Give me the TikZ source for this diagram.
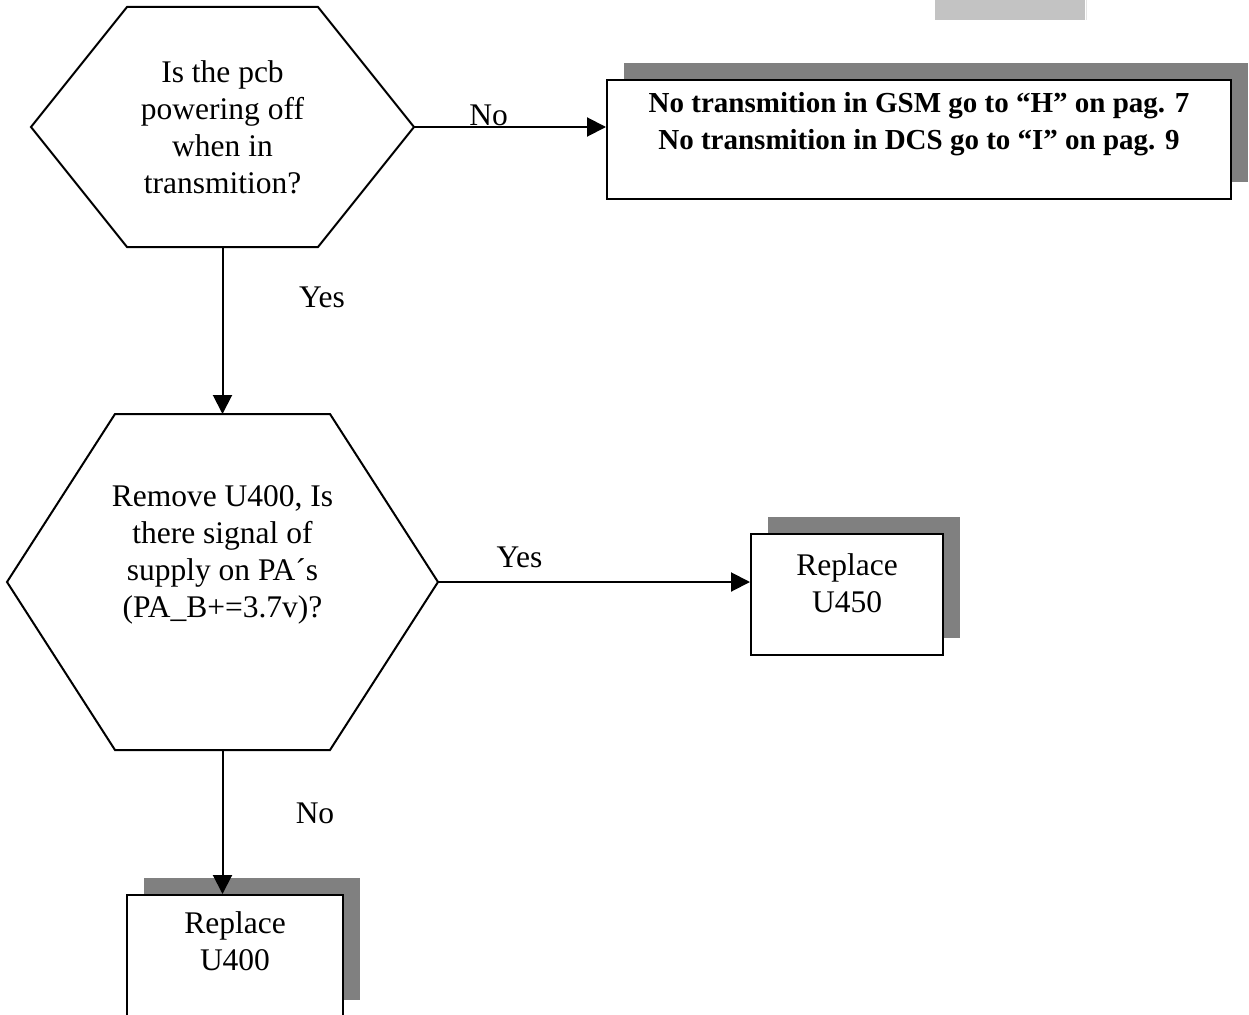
\documentclass[tikz,border=0pt]{standalone}
\usepackage{fontspec}
\setmainfont{Liberation Serif}
\usetikzlibrary{arrows.meta,positioning,shadows}

\definecolor{shade}{HTML}{808080}
\definecolor{tabgray}{HTML}{C3C3C3}

% hexagon outline round a named node, #2 = inset of the flat edges
\newcommand{\hexline}[2]{%
  \draw (#1.west) -- ([xshift=#2]#1.north west) -- ([xshift=-#2]#1.north east)
    -- (#1.east) -- ([xshift=-#2]#1.south east) -- ([xshift=#2]#1.south west) -- cycle;}

\begin{document}
\begin{tikzpicture}[x=1pt,y=-1pt,line width=2pt,
    font=\fontsize{31.5}{37}\selectfont,
    hexbox/.style={inner sep=0pt,outer sep=0pt,align=center},
    stepbox/.style={draw,fill=white,inner sep=0pt,
      drop shadow={shadow xshift=17pt,shadow yshift=17pt,opacity=1,fill=shade}},
    txt/.style={align=center,inner sep=0pt},
    flow/.style={-{Triangle[length=19pt,width=19pt]}}]
    \useasboundingbox (0,0) rectangle (1249,1014);
    \fill[tabgray] (935,0) rectangle (1085,20);
    \draw[line width=1pt,gray!20] (1086,0) -- (1086,20);

    % questions
    \node[hexbox,minimum width=383pt,minimum height=240pt] (q1) at (222.5,127)
        {Is the pcb\\powering off\\when in\\transmition?};
    \hexline{q1}{96pt}
    \node[hexbox,minimum width=431pt,minimum height=336pt] (q2) at (222.5,582) {};
    \hexline{q2}{108pt}
    \node[txt] (q2t) at (222.5,555) {Remove U400, Is\\there signal of\\supply on PA´s\\(PA\_B+=3.7v)?};

    % actions
    \node[stepbox,minimum width=624pt,minimum height=119pt] (r1) at (919,139.5) {};
    \node[txt,font=\fontsize{29}{37}\selectfont\bfseries] (r1t) at (919,124)
        {No transmition in GSM go to “H” on pag. 7\\No transmition in DCS go to “I” on pag. 9};
    \node[stepbox,minimum width=192pt,minimum height=121pt] (r2) at (847,594.5) {};
    \node[txt] (r2t) at (847,583) {Replace\\U450};
    \node[stepbox,minimum width=216pt,minimum height=122pt] (r3) at (235,956) {};
    \node[txt] (r3t) at (235,941) {Replace\\U400};

    % connectors
    \draw[flow] (q1.east) -- (q1.east -| r1.west);
    \draw[flow] (q1.south) -- (q2.north);
    \draw[flow] (q2.east) -- (q2.east -| r2.west);
    \draw[flow] (q2.south) -- (q2.south |- r3.north);

    \node[anchor=base] (no1) at (488.5,125) {No};
    \node[anchor=base] (yes1) at (322,307) {Yes};
    \node[anchor=base] (yes2) at (519.5,567) {Yes};
    \node[anchor=base] (no2) at (315,823) {No};
\end{tikzpicture}
\end{document}
